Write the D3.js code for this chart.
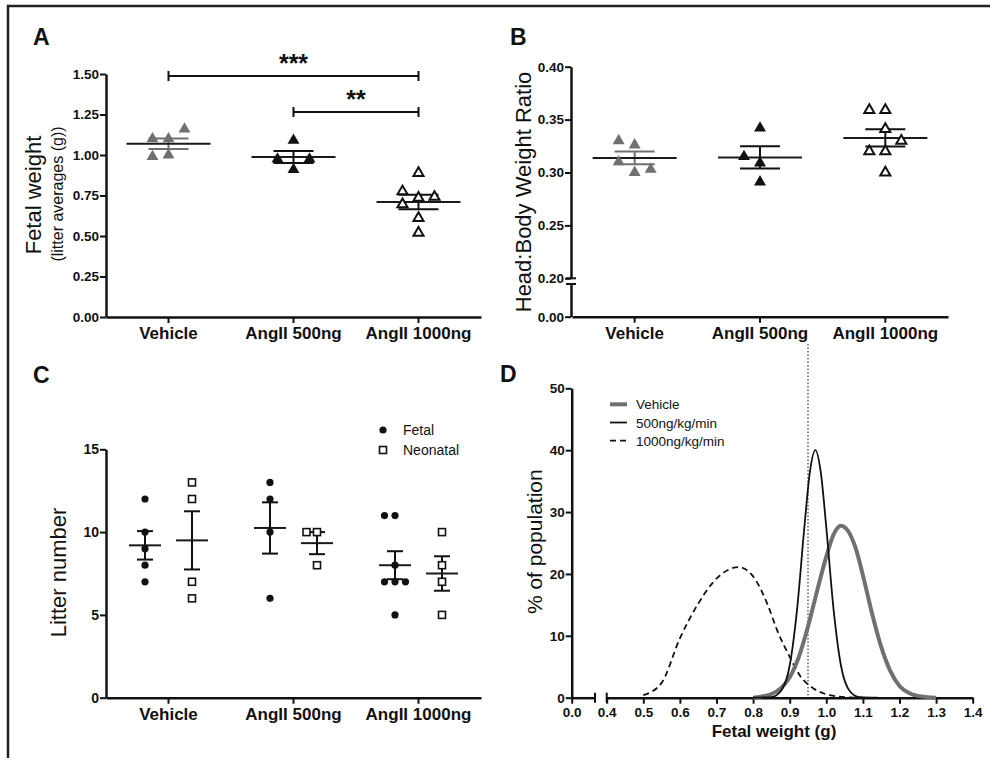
<!DOCTYPE html>
<html>
<head>
<meta charset="utf-8">
<script src="https://cdn.jsdelivr.net/npm/d3@7"></script>
<style>
  body { margin: 0; background: #fff; }
  svg { display: block; font-family: "Liberation Sans", Arial, sans-serif; }
</style>
</head>
<body>
<div id="chart"></div>
<script>
var groups = ["Vehicle", "AngII 500ng", "AngII 1000ng"];

// A: fetal weight, litter averages (g)
var fetalWeight = [
  [1.10, 1.10, 1.16, 1.00, 0.99],
  [1.09, 0.91, 0.975, 0.975],
  [0.889, 0.735, 0.611, 0.519, 0.775, 0.741, 0.695]
];
// B: head:body weight ratio
var headBodyRatio = [
  [0.326, 0.300, 0.330, 0.310, 0.303],
  [0.342, 0.309, 0.291, 0.315],
  [0.359, 0.341, 0.320, 0.300, 0.359, 0.320, 0.330]
];
// C: litter number
var litterKeys = ["Fetal", "Neonatal"];
var litterFetal = [[12, 10, 9, 8, 7], [13, 12, 10, 6], [11, 11, 8, 7, 7, 7, 5]];
var litterNeonatal = [[13, 12, 7, 6], [10, 10, 8], [10, 8, 7, 5]];

// D: distribution curves (% of population vs fetal weight)
var curveNames = ["Vehicle", "500ng/kg/min", "1000ng/kg/min"];
var vehicleX = [0.80, 0.85, 0.875, 0.90, 0.925, 0.95, 0.975, 1.00, 1.02, 1.04, 1.06, 1.08, 1.10, 1.125, 1.15, 1.175, 1.20, 1.225, 1.25, 1.30];
var vehicleY = [0, 0.6, 1.5, 3.3, 6.6, 11.5, 17.3, 22.8, 26.4, 27.8, 26.9, 24.2, 19.8, 13.6, 8.2, 4.3, 1.9, 0.8, 0.3, 0];
var dose500X = [0.80, 0.85, 0.875, 0.90, 0.92, 0.94, 0.955, 0.97, 0.985, 1.00, 1.02, 1.04, 1.065, 1.09, 1.14];
var dose500Y = [0, 0.1, 1.0, 5.2, 14.2, 27.5, 36.4, 40, 36.4, 27.5, 14.2, 5.2, 1.0, 0.1, 0];
var dose1000X = [0.50, 0.55, 0.60, 0.65, 0.69, 0.73, 0.76, 0.80, 0.84, 0.865, 0.90, 0.93, 0.965, 1.01, 1.06, 1.10];
var dose1000Y = [0.4, 2.4, 9.6, 15.2, 18.6, 20.6, 21.1, 19.6, 15.0, 11.0, 6.6, 3.4, 1.5, 0.4, 0.05, 0];
var cutoff = 0.95;

var weightTicks = [0, 0.25, 0.5, 0.75, 1, 1.25, 1.5];
var ratioTicks = [0.2, 0.25, 0.3, 0.35, 0.4];
var litterTicks = [0, 5, 10, 15];
var popTicks = [0, 10, 20, 30, 40, 50];
var fetalTicks = [0.4, 0.5, 0.6, 0.7, 0.8, 0.9, 1.0, 1.1, 1.2, 1.3, 1.4];
var sigPairs = [[0, 2], [1, 2]];
var sigLabels = ["***", "**"];

var ink = "#111", grey = "#707070";

var svg = d3.select("#chart").append("svg")
    .attr("width", 990)
    .attr("height", 758);

// outer frame (top and left only)
svg.append("path")
    .attr("d", "M8,758V6H990")
    .attr("fill", "none")
    .attr("stroke", "#222")
    .attr("stroke-width", 2.5);

function styleAxis(g, size) {
  g.attr("font-family", null)
      .attr("font-size", size)
      .attr("font-weight", "bold");
  g.select(".domain").attr("stroke", ink).attr("stroke-width", 2.5);
  g.selectAll(".tick line").attr("stroke", ink).attr("stroke-width", 2);
  g.selectAll(".tick text").attr("fill", ink);
  return g;
}

function sem(a) {
  return d3.deviation(a) / Math.sqrt(a.length);
}

// greedy column dodge so equal values sit side by side
function dodge(vals, y, step, thr) {
  var placed = [];
  var ks = [0, -1, 1, -2, 2, -3, 3];
  return vals.map(function(v) {
    var py = y(v);
    for (var i = 0; i < ks.length; i++) {
      var k = ks[i];
      var hit = placed.some(function(p) { return p.k === k && Math.abs(p.y - py) < thr; });
      if (!hit) {
        placed.push({k: k, y: py});
        return {v: v, y: py, dx: k * step};
      }
    }
  });
}

function meanSem(cx, vals, y, halfMean, halfCap, color) {
  var m = d3.mean(vals), s = sem(vals);
  var g = svg.append("g");
  g.append("line")
      .attr("x1", cx).attr("x2", cx)
      .attr("y1", y(m + s)).attr("y2", y(m - s))
      .attr("stroke", color).attr("stroke-width", 2);
  [m + s, m - s].forEach(function(v) {
    g.append("line")
        .attr("x1", cx - halfCap).attr("x2", cx + halfCap)
        .attr("y1", y(v)).attr("y2", y(v))
        .attr("stroke", color).attr("stroke-width", 2);
  });
  g.append("line")
      .attr("x1", cx - halfMean).attr("x2", cx + halfMean)
      .attr("y1", y(m)).attr("y2", y(m))
      .attr("stroke", "#1a1a1a").attr("stroke-width", 2);
}

var triangle = d3.symbol().type(d3.symbolTriangle);
var triStyle = [
  {fill: grey, stroke: "none", size: 62, line: grey},
  {fill: ink, stroke: "none", size: 62, line: ink},
  {fill: "#fff", stroke: ink, size: 44, line: ink}
];

function trianglePoints(data, x, y) {
  data.forEach(function(vals, i) {
    var cx = x(groups[i]) + x.bandwidth() / 2;
    var st = triStyle[i];
    meanSem(cx, vals, y, 42, 20, st.line);
    svg.append("g").selectAll("path")
        .data(dodge(vals, y, 16, 12))
        .enter()
        .append("path")
        .attr("d", triangle.size(st.size)())
        .attr("transform", function(d) { return "translate(" + (cx + d.dx) + "," + d.y + ")"; })
        .attr("fill", st.fill)
        .attr("stroke", st.stroke)
        .attr("stroke-width", 2);
  });
}

function panelLetter(t, x, y) {
  svg.append("text").text(t)
      .attr("x", x).attr("y", y)
      .attr("font-size", 23).attr("font-weight", "bold")
      .attr("fill", ink);
}

function yTitle(t, x, y, size) {
  return svg.append("text").text(t)
      .attr("transform", "translate(" + x + "," + y + ") rotate(-90)")
      .attr("text-anchor", "middle")
      .attr("font-size", size)
      .attr("fill", ink);
}

// ---------- A ----------
var xA = d3.scaleBand().domain(groups).range([106, 481]);
var yA = d3.scaleLinear().domain([0, 1.5]).range([317, 74]);

svg.append("g").attr("transform", "translate(106,0)")
    .call(d3.axisLeft(yA).tickValues(weightTicks).tickFormat(d3.format(".2f"))
      .tickSize(6).tickSizeOuter(0).tickPadding(1))
    .call(styleAxis, 13.5);
svg.append("g").attr("transform", "translate(0,317)")
    .call(d3.axisBottom(xA).tickSize(6).tickSizeOuter(0).tickPadding(4))
    .call(styleAxis, 17);

trianglePoints(fetalWeight, xA, yA);

var sigY = [76, 112];
sigPairs.forEach(function(p, i) {
  var x1 = xA(groups[p[0]]) + xA.bandwidth() / 2,
      x2 = xA(groups[p[1]]) + xA.bandwidth() / 2;
  var y = sigY[i];
  svg.append("path")
      .attr("d", "M" + x1 + "," + (y - 5) + "V" + (y + 5) + "M" + x1 + "," + y + "H" + x2 +
        "M" + x2 + "," + (y - 5) + "V" + (y + 5))
      .attr("fill", "none").attr("stroke", ink).attr("stroke-width", 2);
  svg.append("text").text(sigLabels[i])
      .attr("x", (x1 + x2) / 2).attr("y", y - 4)
      .attr("text-anchor", "middle")
      .attr("font-size", 25).attr("font-weight", "bold")
      .attr("fill", ink);
});

panelLetter("A", 33, 45);
yTitle("Fetal weight", 41, 195, 22);
yTitle("(litter averages (g))", 63, 194, 16);

// ---------- B ----------
var xB = d3.scaleBand().domain(groups).range([572, 948]);
var yB = d3.scaleLinear().domain([0.2, 0.4]).range([278.3, 66.7]);
var yBlow = d3.scaleLinear().domain([0, 0.2]).range([316.7, 284]);

svg.append("g").attr("transform", "translate(571,0)")
    .call(d3.axisLeft(yB).tickValues(ratioTicks).tickFormat(d3.format(".2f"))
      .tickSize(6).tickSizeOuter(0).tickPadding(1))
    .call(styleAxis, 13.5);
svg.append("g").attr("transform", "translate(571,0)")
    .call(d3.axisLeft(yBlow).tickValues([0]).tickFormat(d3.format(".2f"))
      .tickSize(6).tickSizeOuter(0).tickPadding(1))
    .call(styleAxis, 13.5);
[yB(0.2), yBlow.range()[1]].forEach(function(y) {
  svg.append("line")
      .attr("x1", 566).attr("x2", 576).attr("y1", y).attr("y2", y)
      .attr("stroke", ink).attr("stroke-width", 2);
});
svg.append("g").attr("transform", "translate(0,316.7)")
    .call(d3.axisBottom(xB).tickSize(6).tickSizeOuter(0).tickPadding(4))
    .call(styleAxis, 17);

trianglePoints(headBodyRatio, xB, yB);

panelLetter("B", 510, 45);
yTitle("Head:Body Weight Ratio", 531, 192, 22);

// ---------- C ----------
var xC = d3.scaleBand().domain(groups).range([106, 481]);
var subC = d3.scalePoint().domain(litterKeys).range([-23.5, 23.5]);
var yC = d3.scaleLinear().domain([0, 15]).range([697.7, 449.3]);

svg.append("g").attr("transform", "translate(106,0)")
    .call(d3.axisLeft(yC).tickValues(litterTicks).tickSize(6).tickSizeOuter(0).tickPadding(1))
    .call(styleAxis, 14);
svg.append("g").attr("transform", "translate(0,697.7)")
    .call(d3.axisBottom(xC).tickSize(6).tickSizeOuter(0).tickPadding(4))
    .call(styleAxis, 17);

[litterFetal, litterNeonatal].forEach(function(series, s) {
  series.forEach(function(vals, i) {
    var cx = xC(groups[i]) + xC.bandwidth() / 2 + subC(litterKeys[s]);
    meanSem(cx, vals, yC, 16, 8, ink);
    var pts = dodge(vals, yC, 10.5, 8);
    var g = svg.append("g");
    if (s === 0) {
      g.selectAll("circle").data(pts).enter().append("circle")
          .attr("cx", function(d) { return cx + d.dx; })
          .attr("cy", function(d) { return d.y; })
          .attr("r", 3.6)
          .attr("fill", ink);
    } else {
      g.selectAll("rect").data(pts).enter().append("rect")
          .attr("x", function(d) { return cx + d.dx - 3.5; })
          .attr("y", function(d) { return d.y - 3.5; })
          .attr("width", 7).attr("height", 7)
          .attr("fill", "#fff").attr("stroke", ink).attr("stroke-width", 1.6);
    }
  });
});

// legend C
litterKeys.forEach(function(k, i) {
  var y = 430 + i * 20;
  if (i === 0) {
    svg.append("circle").attr("cx", 383).attr("cy", y).attr("r", 3.6).attr("fill", ink);
  } else {
    svg.append("rect").attr("x", 379.5).attr("y", y - 3.5).attr("width", 7).attr("height", 7)
        .attr("fill", "#fff").attr("stroke", ink).attr("stroke-width", 1.6);
  }
  svg.append("text").text(k)
      .attr("x", 403).attr("y", y + 5)
      .attr("font-size", 14).attr("fill", ink);
});

panelLetter("C", 33, 383);
yTitle("Litter number", 65.5, 572.5, 22);

// ---------- D ----------
var xD = d3.scaleLinear().domain([0.4, 1.4]).range([606.7, 972.7]);
var xD0 = d3.scaleLinear().domain([0, 0.064]).range([571.7, 595]);
var yD = d3.scaleLinear().domain([0, 50]).range([697.7, 388.3]);

svg.append("g").attr("transform", "translate(571.7,0)")
    .call(d3.axisLeft(yD).tickValues(popTicks).tickSize(6).tickSizeOuter(0).tickPadding(1))
    .call(styleAxis, 13.5);
svg.append("g").attr("transform", "translate(0,697.7)")
    .call(d3.axisBottom(xD0).tickValues([0]).tickFormat(d3.format(".1f"))
      .tickSize(6).tickSizeOuter(0).tickPadding(3.5))
    .call(styleAxis, 13.5);
svg.append("g").attr("transform", "translate(0,697.7)")
    .call(d3.axisBottom(xD).tickValues(fetalTicks).tickFormat(d3.format(".1f"))
      .tickSize(6).tickSizeOuter(0).tickPadding(3.5))
    .call(styleAxis, 13.5);
[xD0.range()[1], xD.range()[0]].forEach(function(x) {
  svg.append("line")
      .attr("x1", x).attr("x2", x).attr("y1", 692.7).attr("y2", 702.7)
      .attr("stroke", ink).attr("stroke-width", 2);
});

svg.append("line")
    .attr("x1", xD(cutoff)).attr("x2", xD(cutoff))
    .attr("y1", 344).attr("y2", 697)
    .attr("stroke", "#555").attr("stroke-width", 1.4)
    .attr("stroke-dasharray", "1.5,2");

var curveData = [
  d3.zip(vehicleX, vehicleY),
  d3.zip(dose500X, dose500Y),
  d3.zip(dose1000X, dose1000Y)
];
var curveStyle = [
  {stroke: grey, width: 4, dash: null},
  {stroke: ink, width: 1.8, dash: null},
  {stroke: ink, width: 1.8, dash: "6,4"}
];
var line = d3.line()
    .x(function(d) { return xD(d[0]); })
    .y(function(d) { return yD(d[1]); })
    .curve(d3.curveMonotoneX);

[2, 0, 1].forEach(function(i) {
  svg.append("path")
      .datum(curveData[i])
      .attr("d", line)
      .attr("fill", "none")
      .attr("stroke", curveStyle[i].stroke)
      .attr("stroke-width", curveStyle[i].width)
      .attr("stroke-dasharray", curveStyle[i].dash);
});

// legend D
curveNames.forEach(function(n, i) {
  var y = 404.3 + i * 18.2;
  svg.append("line")
      .attr("x1", 610).attr("x2", 627).attr("y1", y).attr("y2", y)
      .attr("stroke", curveStyle[i].stroke)
      .attr("stroke-width", curveStyle[i].width)
      .attr("stroke-dasharray", curveStyle[i].dash);
  svg.append("text").text(n)
      .attr("x", 636).attr("y", y + 5)
      .attr("font-size", 13.5).attr("fill", ink);
});

panelLetter("D", 500, 382);
yTitle("% of population", 542, 541.7, 21);
svg.append("text").text("Fetal weight (g)")
    .attr("x", 774).attr("y", 737)
    .attr("text-anchor", "middle")
    .attr("font-size", 17).attr("font-weight", "bold")
    .attr("fill", ink);
</script>
</body>
</html>
